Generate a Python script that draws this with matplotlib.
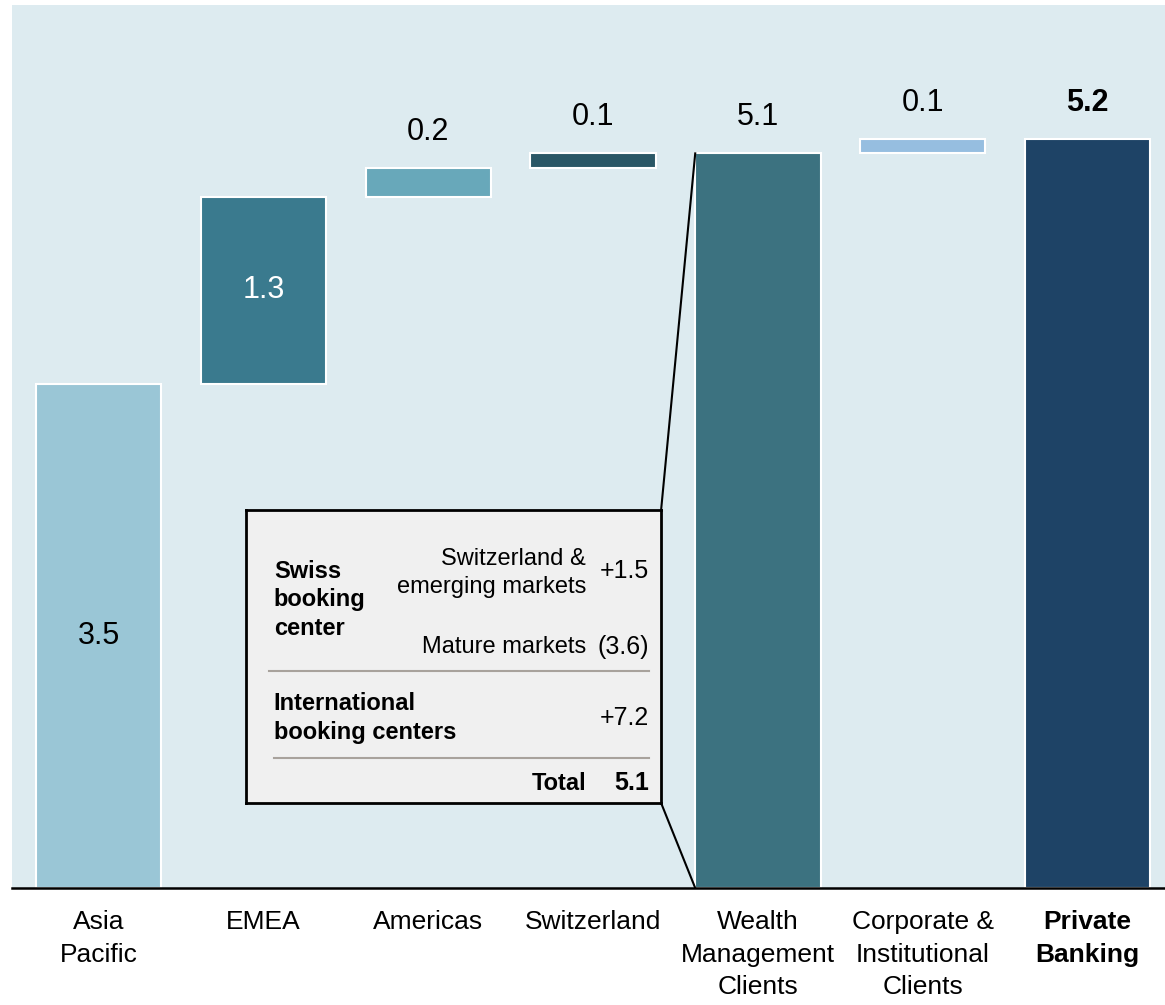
import matplotlib
matplotlib.use("Agg")
import matplotlib.pyplot as plt
from matplotlib.lines import Line2D

plt.rcParams["font.family"] = ["Liberation Sans", "DejaVu Sans"]

# waterfall data
categories = ["Asia\nPacific", "EMEA", "Americas", "Switzerland",
              "Wealth\nManagement\nClients", "Corporate &\nInstitutional\nClients",
              "Private\nBanking"]
deltas = [3.5, 1.3, 0.2, 0.1, 5.1, 0.1, 5.2]
bottoms = [0, 3.5, 4.8, 5.0, 0, 5.1, 0]
value_labels = ["3.5", "1.3", "0.2", "0.1", "5.1", "0.1", "5.2"]
colors = ["#9AC6D6", "#3A7A8E", "#68A8BA", "#2A5766", "#3C7280", "#96BEE0", "#1E4366"]

# inset breakdown of Wealth Management Clients
box_rows = ["Switzerland &\nemerging markets", "Mature markets"]
box_row_values = ["+1.5", "(3.6)"]
intl_value = "+7.2"
total_value = "5.1"

bg = "#DDEBF0"
fig = plt.figure(figsize=(11.65, 10.05), dpi=100)
ax = fig.add_axes([12 / 1165, 117 / 1005, 1153 / 1165, 883 / 1005])
ax.set_facecolor(bg)

x = list(range(len(categories)))
ax.bar(x, deltas, bottom=bottoms, width=0.76, color=colors,
       edgecolor="white", linewidth=1.5, zorder=2)

for i, (d, b, lab) in enumerate(zip(deltas, bottoms, value_labels)):
    if i in (0, 1):
        ax.text(i, b + d / 2, lab, ha="center", va="center", fontsize=22,
                color="black" if i == 0 else "white")
    else:
        bold = i == len(categories) - 1
        ax.annotate(lab, (i, b + d), xytext=(0, 26), textcoords="offset points",
                    ha="center", va="center", fontsize=22,
                    fontweight="bold" if bold else "normal")

ax.set_xlim(-0.525, 6.47)
ax.set_ylim(0, 6.13)
ax.set_xticks(x)
ax.set_xticklabels(categories, fontsize=19, linespacing=1.45)
ax.get_xticklabels()[-1].set_fontweight("bold")
ax.tick_params(axis="x", length=0, pad=16)
ax.set_yticks([])
for s in ["top", "left", "right"]:
    ax.spines[s].set_visible(False)
ax.spines["bottom"].set_linewidth(1.8)
ax.spines["bottom"].set_zorder(3)

# connectors from the box to the Wealth Management bar
box_left, box_right = 0.895, 3.413
box_bottom, box_top = 0.59, 2.625
wm = 4
ax.plot([box_right, wm - 0.38], [box_top, deltas[wm]], color="black", lw=1.5, zorder=4)
ax.plot([box_right, wm - 0.38], [box_bottom, 0], color="black", lw=1.5, zorder=4)

# inset box
bx = fig.add_axes([246 / 1165, 202 / 1005, 415 / 1165, 293 / 1005])
bx.set_facecolor("#F0F0F0")
bx.set_xticks([])
bx.set_yticks([])
for s in bx.spines.values():
    s.set_linewidth(2)
fs = 17
fv = 18
bx.text(0.067, 0.693, "Swiss\nbooking\ncenter", ha="left", va="center",
        fontsize=fs, fontweight="bold", linespacing=1.3, transform=bx.transAxes)
bx.text(0.819, 0.785, box_rows[0], ha="right", va="center", fontsize=fs,
        linespacing=1.4, transform=bx.transAxes)
bx.text(0.971, 0.792, box_row_values[0], ha="right", va="center", fontsize=fv,
        transform=bx.transAxes)
bx.text(0.819, 0.533, box_rows[1], ha="right", va="center", fontsize=fs,
        transform=bx.transAxes)
bx.text(0.971, 0.533, box_row_values[1], ha="right", va="center", fontsize=fv,
        transform=bx.transAxes)
bx.add_line(Line2D([0.055, 0.971], [0.451, 0.451], color="#A8A29C", lw=1.5,
                   transform=bx.transAxes))
bx.text(0.067, 0.290, "International\nbooking centers", ha="left", va="center",
        fontsize=fs, fontweight="bold", linespacing=1.3, transform=bx.transAxes)
bx.text(0.971, 0.290, intl_value, ha="right", va="center", fontsize=fv,
        transform=bx.transAxes)
bx.add_line(Line2D([0.067, 0.971], [0.154, 0.154], color="#A8A29C", lw=1.5,
                   transform=bx.transAxes))
bx.text(0.819, 0.068, "Total", ha="right", va="center", fontsize=fs,
        fontweight="bold", transform=bx.transAxes)
bx.text(0.971, 0.068, total_value, ha="right", va="center", fontsize=fv,
        fontweight="bold", transform=bx.transAxes)

fig.savefig("out.png", dpi=100, facecolor="white")
